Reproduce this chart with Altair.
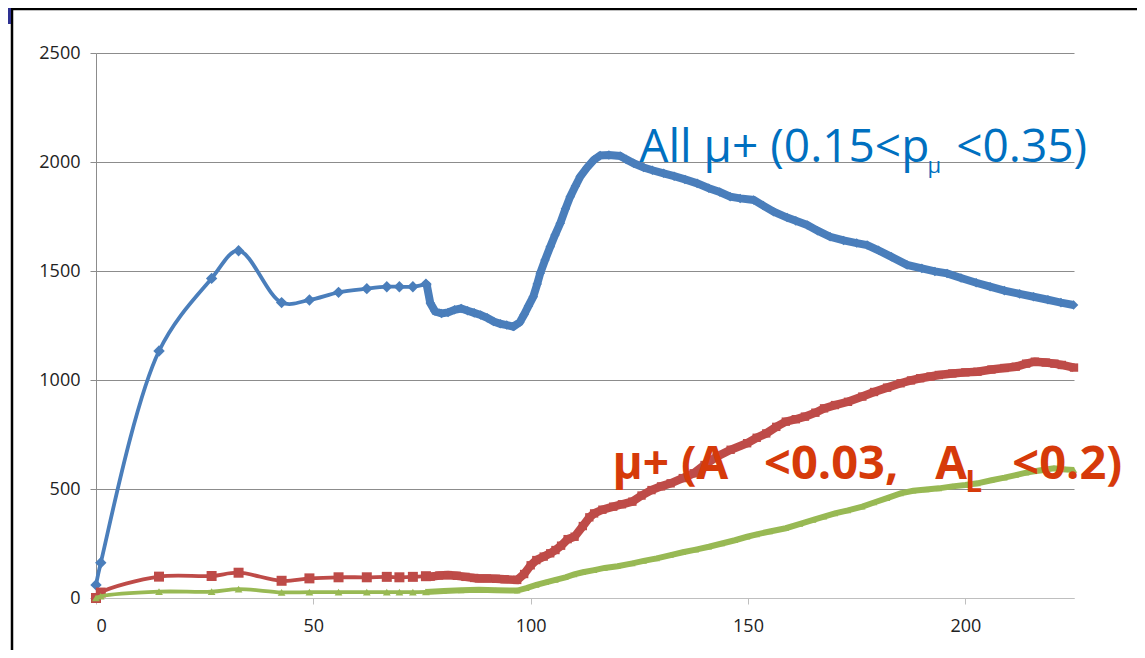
import altair as alt
import pandas as pd

# ---------------- data ----------------
# sparse section (individual markers), x <= 76
blue_sparse_x = [0, 1.1, 14.5, 26.6, 32.8, 42.7, 49.1, 55.8, 62.3, 66.9, 69.8, 72.9, 75.9]
blue_sparse_y = [60, 162, 1133, 1466, 1593, 1355, 1367, 1402, 1419, 1428, 1428, 1428, 1440]
red_sparse_x = [0, 1.1, 14.5, 26.6, 32.8, 42.7, 49.1, 55.8, 62.3, 66.9, 69.8, 72.9, 75.9]
red_sparse_y = [0, 25, 98, 101, 116, 79, 90, 95, 95, 97, 95, 97, 100]
green_sparse_x = [0, 1.1, 14.5, 26.6, 32.8, 42.7, 49.1, 55.8, 62.3, 66.9, 69.8, 72.9, 75.9]
green_sparse_y = [0, 8, 29, 29, 41, 26, 27, 27, 27, 27, 27, 27, 28]

# dense section, x >= 76
blue_dense_x = [75.9, 76.1, 76.9, 78.0, 79.5, 81, 82.5, 84, 85.5, 87, 88.5, 90, 91.5, 93, 94.5, 96,
                97.5, 98.5, 99.5, 100.6, 101.5, 102.2, 103.3, 104.5, 105.6, 106.8, 108, 109.1,
                110.3, 111.4, 113, 114.5, 116, 118, 120.6, 122, 123.7, 126, 128, 130.6, 133,
                135.5, 138.3, 141, 143.5, 145.9, 148.2, 151.3, 153.5, 155.9, 159, 161, 163.6,
                166, 168.9, 172, 175, 177.4, 180, 183, 186.6, 190, 193, 195.8, 199, 202.5,
                205.7, 209, 212.5, 215.7, 219, 222, 224.9]
blue_dense_y = [1440, 1436, 1353, 1315, 1305, 1310, 1322, 1328, 1318, 1308, 1298, 1285, 1268, 1258,
                1252, 1245, 1265, 1300, 1340, 1382, 1440, 1490, 1550, 1611, 1665, 1719, 1785,
                1841, 1890, 1933, 1975, 2009, 2030, 2032, 2028, 2012, 1994, 1975, 1962, 1948,
                1935, 1920, 1902, 1880, 1862, 1841, 1833, 1826, 1800, 1772, 1745, 1730, 1711,
                1685, 1657, 1640, 1628, 1619, 1595, 1565, 1528, 1512, 1498, 1489, 1468, 1446,
                1428, 1410, 1395, 1382, 1368, 1355, 1344]

red_dense_x = [75.9, 77, 79, 81, 83, 85, 87, 88.1, 90, 92, 94, 96.9, 98.5, 100, 101.3, 103, 104.5,
               105.7, 107, 108.5, 110.1, 112, 113.5, 114.6, 116.5, 119, 121, 123.4, 125.5, 127.8,
               130, 132.2, 135, 137.5, 140, 142.8, 146, 149.8, 152, 154.2, 156.5, 158.7, 161,
               163.1, 165.5, 167.5, 170, 173, 176.3, 179, 182, 185.1, 187.5, 189.6, 192, 193.9,
               197, 200, 202.8, 206, 209, 211.6, 214, 216, 218.5, 220.5, 222.2, 225]
red_dense_y = [100, 98, 103, 105, 102, 97, 92, 90, 90, 88, 86, 83, 110, 150, 174, 190, 205, 220,
               240, 270, 281, 330, 370, 388, 405, 419, 430, 442, 470, 495, 512, 526, 550, 572,
               610, 648, 680, 710, 735, 755, 785, 809, 820, 832, 850, 870, 885, 900, 924, 945,
               965, 985, 998, 1008, 1016, 1023, 1030, 1035, 1038, 1048, 1055, 1061, 1075, 1084,
               1080, 1075, 1069, 1057]

green_dense_x = [75.9, 80, 84, 88.1, 92, 96.9, 99, 101.3, 103.5, 105.7, 108, 110, 112, 114.6, 117,
                 120, 123.4, 126, 129, 132.2, 135, 138, 141, 144, 147, 149.8, 152, 155, 158.7,
                 162, 165, 167.5, 170, 173, 176.3, 179, 182, 185.1, 188, 191, 193.9, 197, 200,
                 202.8, 206, 209, 211.6, 214, 217, 220.4, 223, 225]
green_dense_y = [28, 32, 35, 38, 36, 34, 45, 60, 72, 83, 95, 108, 118, 128, 138, 146, 159, 170,
                 182, 197, 210, 222, 235, 250, 265, 281, 292, 305, 320, 340, 358, 373, 388, 402,
                 419, 438, 458, 480, 492, 498, 503, 512, 518, 526, 540, 552, 564, 575, 585, 595,
                 590, 587]

x_ticks = [0, 50, 100, 150, 200]
y_ticks = [0, 500, 1000, 1500, 2000, 2500]

# annotation pieces (data coordinates)
blue_txt = ["All μ+ (0.15<p", "μ", "<0.35)"]
blue_txt_x = [125.0, 191.3, 197.9]
blue_txt_y = [1998, 1948, 1998]
blue_txt_size = [46, 22, 46]
red_txt = ["μ+ (A", "<0.03,", "A", "L", "<0.2)"]
red_txt_x = [118.8, 153.7, 193.1, 200.0, 210.8]
red_txt_y = [545, 545, 545, 486, 545]
red_txt_size = [46, 47, 46, 30, 47]

BLUE = "#4A7EBB"
RED = "#BE4B48"
GREEN = "#98B954"

# ---------------- chart ----------------
xs = alt.Scale(domain=[0, 225], nice=False)
ys = alt.Scale(domain=[0, 2500], nice=False)

x_axis = alt.Axis(values=x_ticks, title=None, grid=False, domainColor="#BFBFBF", tickColor="#BFBFBF",
                  tickSize=6, labelFont="Open Sans", labelFontSize=18, labelColor="#222222",
                  labelPadding=13, format="d")
y_axis = alt.Axis(values=y_ticks, title=None, grid=True, format="d",
                  gridColor={"condition": {"test": "datum.value === 0", "value": "#BFBFBF"}, "value": "#8C8C8C"},
                  domainColor="#8C8C8C", tickColor="#8C8C8C", tickSize=6, labelFont="Open Sans",
                  labelFontSize=18, labelColor="#222222", labelPadding=10)


def df(xv, yv):
    return pd.DataFrame({"x": xv, "y": yv})


def enc(ch, first=False):
    if first:
        return ch.encode(x=alt.X("x:Q", scale=xs, axis=x_axis), y=alt.Y("y:Q", scale=ys, axis=y_axis))
    return ch.encode(x=alt.X("x:Q", scale=xs), y=alt.Y("y:Q", scale=ys))


layers = []
series = [
    (blue_sparse_x, blue_sparse_y, blue_dense_x, blue_dense_y, BLUE, "diamond", 130, 8),
    (red_sparse_x, red_sparse_y, red_dense_x, red_dense_y, RED, "square", 100, 8.5),
    (green_sparse_x, green_sparse_y, green_dense_x, green_dense_y, GREEN, "triangle-up", 60, 6),
]
first = True
for sx, sy, dx, dy, col, shape, msize, dw in series:
    layers.append(enc(alt.Chart(df(sx, sy)).mark_line(color=col, strokeWidth=3.8, interpolate="catmull-rom"), first))
    first = False
    layers.append(enc(alt.Chart(df(sx, sy)).mark_point(color=col, shape=shape, size=msize, filled=True, opacity=1)))
    layers.append(enc(alt.Chart(df(dx, dy)).mark_line(color=col, strokeWidth=dw, interpolate="linear")))
    layers.append(enc(alt.Chart(df(dx, dy)).mark_point(color=col, shape=shape, size=msize * 0.7, filled=True, opacity=1)))

# annotations
for i, t in enumerate(blue_txt):
    d = pd.DataFrame({"x": [blue_txt_x[i]], "y": [blue_txt_y[i]], "t": [t]})
    layers.append(alt.Chart(d).mark_text(align="left", baseline="alphabetic", font="Open Sans",
                                         fontSize=blue_txt_size[i], color="#0070C0")
                  .encode(x=alt.X("x:Q", scale=xs), y=alt.Y("y:Q", scale=ys), text="t:N"))
for i, t in enumerate(red_txt):
    d = pd.DataFrame({"x": [red_txt_x[i]], "y": [red_txt_y[i]], "t": [t]})
    layers.append(alt.Chart(d).mark_text(align="left", baseline="alphabetic", font="Open Sans",
                                         fontWeight="bold", fontSize=red_txt_size[i], color="#D63A0A")
                  .encode(x=alt.X("x:Q", scale=xs), y=alt.Y("y:Q", scale=ys), text="t:N"))

# slide frame decoration
one = pd.DataFrame({"a": [0]})
layers.append(alt.Chart(one).mark_rule(color="black", strokeWidth=2.5)
              .encode(x=alt.value(-84), y=alt.value(-45), y2=alt.value(597)))
layers.append(alt.Chart(one).mark_rule(color="black", strokeWidth=2.5)
              .encode(x=alt.value(-85), x2=alt.value(1041), y=alt.value(-44)))
layers.append(alt.Chart(one).mark_rect(color="#2E3192")
              .encode(x=alt.value(-88), x2=alt.value(-85), y=alt.value(-45), y2=alt.value(-29)))

chart = alt.layer(*layers).properties(
    width=978, height=545,
    autosize=alt.AutoSizeParams(type="none"),
    padding={"left": 88, "top": 45, "right": 63, "bottom": 52},
    background="white",
).configure_view(stroke=None)

chart.save("out.html", embed_options={"renderer": "svg", "actions": False})
